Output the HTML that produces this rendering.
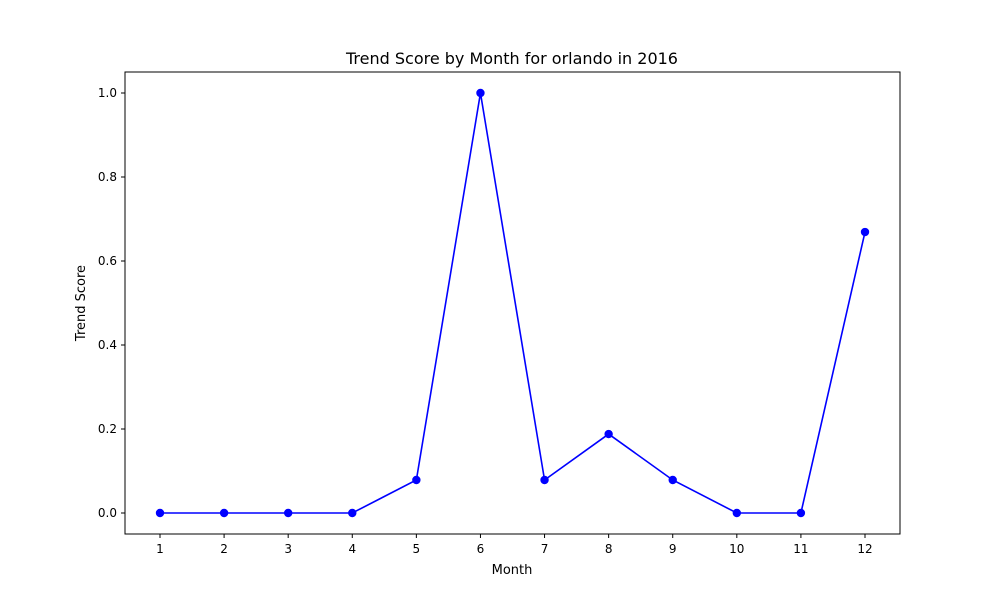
<!DOCTYPE html>
<html><head><meta charset="utf-8"><style>
body{margin:0;background:#fff;font-family:"Liberation Sans","DejaVu Sans",sans-serif;}
svg text{font-family:"DejaVu Sans","Liberation Sans",sans-serif;}
</style></head><body>
<svg id="chart" width="1000" height="600" xmlns="http://www.w3.org/2000/svg">
<rect width="1000" height="600" fill="#fff"/>
<text x="512" y="64" text-anchor="middle" font-size="16">Trend Score by Month for orlando in 2016</text>
<text x="512" y="574" text-anchor="middle" font-size="13">Month</text>
<text transform="translate(85,303) rotate(-90)" text-anchor="middle" font-size="13">Trend Score</text>
<g id="axes"></g>
<g id="series"></g>
<rect x="125" y="72" width="775" height="462" fill="none" stroke="#000" stroke-width="1"/>
</svg>
<script>
const months = [1,2,3,4,5,6,7,8,9,10,11,12];
const scores = [0,0,0,0,0.0786,1.0,0.0786,0.188,0.0786,0,0,0.669];
const yTicks = [0.0,0.2,0.4,0.6,0.8,1.0];
const yTickLabels = ["0.0","0.2","0.4","0.6","0.8","1.0"];

const NS="http://www.w3.org/2000/svg";
function xs(m){return 160+(m-1)*(865-160)/11;}
function ys(v){return 513-v*420;}
const axes=document.getElementById('axes');
const series=document.getElementById('series');
function mk(tag,attrs,parent){const e=document.createElementNS(NS,tag);for(const k in attrs)e.setAttribute(k,attrs[k]);parent.appendChild(e);return e;}
months.forEach(m=>{
  const t=mk('line',{x1:xs(m),x2:xs(m),y1:534,y2:538,stroke:'#000'},axes);
  
  
  const l=mk('text',{x:xs(m),y:553,'text-anchor':'middle','font-size':12},axes);
  l.textContent=m;
  
  
});
yTicks.forEach((v,i)=>{
  const t=mk('line',{x1:121,x2:125,y1:ys(v),y2:ys(v),stroke:'#000'},axes);
  
  
  const l=mk('text',{x:117,y:ys(v)+4,'text-anchor':'end','font-size':12},axes);
  l.textContent=yTickLabels[i];
  
  
});
const pts=months.map((m,i)=>xs(m)+','+ys(scores[i])).join(' ');
const line=mk('polyline',{points:pts,fill:'none',stroke:'#0000ff','stroke-width':1.6},series);


months.forEach((m,i)=>{
  const c=mk('circle',{cx:xs(m),cy:ys(scores[i]),r:4.2,fill:'#0000ff'},series);
  
  
});
</script>
</body></html>
